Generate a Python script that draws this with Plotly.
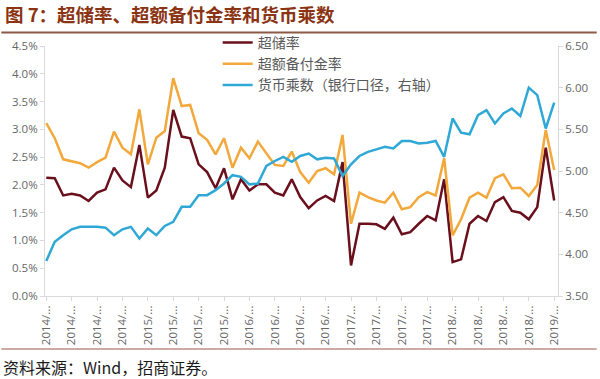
import plotly.graph_objects as go

months = [f"{y}/{m:02d}" for y in range(2014, 2019) for m in range(1, 13)] + ["2019/01"]

excess_reserve = [2.13, 2.12, 1.81, 1.84, 1.81, 1.71, 1.86, 1.92, 2.31, 2.08, 1.96, 2.72,
                  1.77, 1.90, 2.31, 3.35, 2.87, 2.84, 2.37, 2.23, 1.94, 2.30, 1.74, 2.10,
                  1.90, 2.01, 2.01, 1.86, 1.81, 2.10, 1.78, 1.58, 1.72, 1.80, 1.71, 2.41,
                  0.55, 1.30, 1.30, 1.29, 1.21, 1.41, 1.11, 1.15, 1.30, 1.44, 1.36, 2.10,
                  0.61, 0.66, 1.30, 1.44, 1.35, 1.69, 1.78, 1.53, 1.50, 1.38, 1.60, 2.67,
                  1.72]

excess_reserve_ratio = [3.11, 2.84, 2.46, 2.43, 2.39, 2.31, 2.41, 2.49, 2.96, 2.67, 2.55, 3.36,
                        2.37, 2.85, 2.97, 3.92, 3.42, 3.44, 2.93, 2.81, 2.55, 2.84, 2.31, 2.67,
                        2.48, 2.78, 2.58, 2.36, 2.34, 2.60, 2.23, 2.04, 2.25, 2.30, 2.19, 2.90,
                        1.30, 1.86, 1.78, 1.72, 1.68, 1.86, 1.56, 1.60, 1.78, 1.87, 1.81, 2.48,
                        1.09, 1.38, 1.77, 1.86, 1.77, 2.12, 2.19, 1.94, 1.95, 1.80, 2.00, 2.99,
                        2.27]

money_multiplier = [3.92, 4.15, 4.23, 4.30, 4.33, 4.33, 4.33, 4.32, 4.23, 4.30, 4.33, 4.19,
                    4.31, 4.23, 4.34, 4.39, 4.57, 4.57, 4.71, 4.71, 4.77, 4.85, 4.95, 4.93,
                    4.84, 4.85, 5.06, 5.12, 5.17, 5.11, 5.18, 5.21, 5.14, 5.16, 5.15, 4.94,
                    5.08, 5.18, 5.23, 5.26, 5.29, 5.27, 5.36, 5.36, 5.33, 5.34, 5.36, 5.17,
                    5.63, 5.46, 5.44, 5.67, 5.73, 5.57, 5.69, 5.75, 5.66, 6.00, 5.91, 5.51,
                    5.82]

series_names = ["超储率", "超额备付金率", "货币乘数（银行口径，右轴）"]
tick_months = months[::3]
tick_text = [m[:5] + "..." for m in tick_months]

left_ticks = [0.0, 0.5, 1.0, 1.5, 2.0, 2.5, 3.0, 3.5, 4.0, 4.5]
right_ticks = [3.5, 4.0, 4.5, 5.0, 5.5, 6.0, 6.5]

TICK_FONT = dict(family="Open Sans", size=11.5, color="#666666")
AXIS_COLOR = "#d9d9d9"

fig = go.Figure()
fig.add_trace(go.Scatter(x=months, y=excess_reserve, name=series_names[0], mode="lines",
                         line=dict(color="#6A0F1C", width=2.5), yaxis="y"))
fig.add_trace(go.Scatter(x=months, y=excess_reserve_ratio, name=series_names[1], mode="lines",
                         line=dict(color="#F2A83A", width=2.5), yaxis="y"))
fig.add_trace(go.Scatter(x=months, y=money_multiplier, name=series_names[2], mode="lines",
                         line=dict(color="#2FA8D6", width=2.5), yaxis="y2"))

fig.update_layout(
    width=600, height=379,
    margin=dict(l=44, r=39, t=46, b=83),
    paper_bgcolor="white", plot_bgcolor="white",
    showlegend=True,
    legend=dict(x=0.3366, y=1.076, xanchor="left", yanchor="top",
                font=dict(family="Noto Sans CJK SC", size=14, color="#595959"),
                bgcolor="rgba(0,0,0,0)", tracegroupgap=0),
    xaxis=dict(type="category", categoryorder="array", categoryarray=months,
               range=[-0.15, 60.45], tickmode="array", tickvals=tick_months, ticktext=tick_text,
               tickangle=-90, tickfont=TICK_FONT, showline=True, linecolor=AXIS_COLOR,
               linewidth=1, ticks="outside", ticklen=4, tickcolor=AXIS_COLOR,
               showgrid=False, zeroline=False),
    yaxis=dict(range=[0, 4.5], tickvals=left_ticks, ticktext=[f"{v:.1f}%" for v in left_ticks],
               tickfont=TICK_FONT, showline=True, linecolor=AXIS_COLOR, linewidth=1,
               ticks="outside", ticklen=4, tickcolor=AXIS_COLOR, showgrid=False, zeroline=False),
    yaxis2=dict(range=[3.5, 6.5], tickvals=right_ticks, ticktext=[f"{v:.2f}" for v in right_ticks],
                overlaying="y", side="right", tickfont=TICK_FONT, showline=True,
                linecolor=AXIS_COLOR, linewidth=1, ticks="outside", ticklen=4,
                tickcolor=AXIS_COLOR, showgrid=False, zeroline=False),
    annotations=[
        dict(text="<b>图 7：超储率、超额备付金率和货币乘数</b>", xref="paper", yref="paper",
             x=-42/517, y=1 + (46 - 14) / 250, xanchor="left", yanchor="middle", showarrow=False,
             font=dict(family="Noto Sans CJK SC", size=18.5, color="#8A3414")),
        dict(text="资料来源：Wind，招商证券。", xref="paper", yref="paper",
             x=-44/517, y=-(367 - 296) / 250, xanchor="left", yanchor="middle", showarrow=False,
             font=dict(family="Noto Sans CJK SC", size=16, color="#1a1a1a")),
    ],
    shapes=[
        dict(type="line", xref="paper", yref="paper", x0=-44/517, x1=1 + 39/517,
             y0=1 + (46 - 32.5) / 250, y1=1 + (46 - 32.5) / 250,
             line=dict(color="#8C5A44", width=2)),
        dict(type="line", xref="paper", yref="paper", x0=-44/517, x1=1 + 39/517,
             y0=-(349 - 296) / 250, y1=-(349 - 296) / 250,
             line=dict(color="#A0554A", width=1.2)),
    ],
)

fig.write_html("out.html", config={"displayModeBar": False},
               post_script="document.body.style.margin='0';")
